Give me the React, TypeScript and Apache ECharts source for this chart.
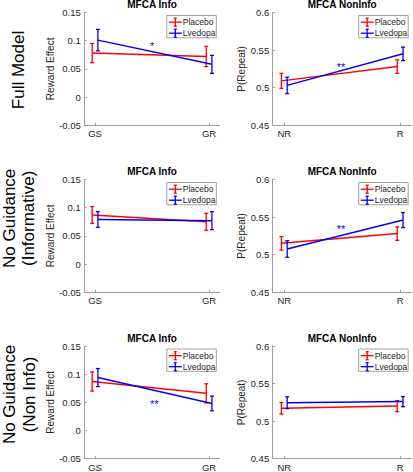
import React, { useEffect, useRef } from 'react';
import * as echarts from 'echarts';

// ---------- data ----------
const rowLabels = [['Full Model'], ['No Guidance', '(Informative)'], ['No Guidance', '(Non Info)']];
const panelTitles = ['MFCA Info', 'MFCA NonInfo'];
const infoCategories = ['GS', 'GR'];
const nonInfoCategories = ['NR', 'R'];
const yAxisNames = ['Reward Effect', 'P(Repeat)'];
const infoYRange = [-0.05, 0.15];
const nonInfoYRange = [0.45, 0.6];
const yTickStep = 0.05;
const groups = ['Placebo', 'Lvedopa'];

// [row][category]
const infoPlaceboMean = [[0.078, 0.072], [0.087, 0.075], [0.087, 0.066]];
const infoPlaceboSem = [[0.017, 0.018], [0.015, 0.015], [0.017, 0.017]];
const infoLvedopaMean = [[0.101, 0.058], [0.079, 0.077], [0.094, 0.048]];
const infoLvedopaSem = [[0.019, 0.016], [0.014, 0.016], [0.016, 0.013]];
const nonInfoPlaceboMean = [[0.509, 0.528], [0.515, 0.528], [0.517, 0.52]];
const nonInfoPlaceboSem = [[0.01, 0.009], [0.009, 0.009], [0.0076, 0.0073]];
const nonInfoLvedopaMean = [[0.503, 0.545], [0.5075, 0.546], [0.5245, 0.526]];
const nonInfoLvedopaSem = [[0.011, 0.009], [0.011, 0.01], [0.0078, 0.0067]];

// significance markers [row] -> label and [x, y] position in data units
const infoSig = ['*', '', '**'];
const infoSigPos = [[1.5, 0.0963], null, [1.52, 0.0524]];
const nonInfoSig = ['**', '**', ''];
const nonInfoSigPos = [[1.49, 0.531], [1.49, 0.538], null];

// ---------- style / layout ----------
const FONT = "'Liberation Sans', Arial, Helvetica, sans-serif";
const COLORS = ['#ff0000', '#0000ff'];
const AXIS_COLOR = '#a0a0a0';
const TEXT_COLOR = '#262626';
const rowTops = [12.5, 179.5, 346];
const plotH = 112.7;
const colLeft = [84.3, 272.7];
const colWidth = [135.5, 139];
const colXRange = [[0.906, 2.094], [0.9, 2.1]];
const groupOffset = [-0.025, 0.025];
const rowLabelCenterY = [70, 218.3, 394.5];
const rowLabelLineX = [[18.3], [9, 28.5], [9, 29]];

function buildOption() {
  const grids: any[] = [];
  const xAxes: any[] = [];
  const yAxes: any[] = [];
  const series: any[] = [];
  const graphics: any[] = [];

  for (let r = 0; r < 3; r++) {
    for (let c = 0; c < 2; c++) {
      const idx = r * 2 + c;
      const left = colLeft[c];
      const width = colWidth[c];
      const top = rowTops[r];
      const cats = c === 0 ? infoCategories : nonInfoCategories;
      const yr = c === 0 ? infoYRange : nonInfoYRange;

      grids.push({ left, top, width, height: plotH, containLabel: false, outerBoundsMode: 'none' });
      xAxes.push({
        type: 'value',
        gridIndex: idx,
        min: colXRange[c][0],
        max: colXRange[c][1],
        splitLine: { show: false },
        axisLine: { show: true, onZero: false, lineStyle: { color: AXIS_COLOR, width: 1 } },
        axisTick: { show: true, inside: true, length: 2.5, customValues: [1, 2], lineStyle: { color: AXIS_COLOR } },
        axisLabel: {
          customValues: [1, 2],
          formatter: (v: number) => cats[Math.round(v) - 1] ?? '',
          color: TEXT_COLOR,
          fontSize: 9.5,
          fontFamily: FONT,
          margin: 3.5,
        },
      });
      yAxes.push({
        type: 'value',
        gridIndex: idx,
        min: yr[0],
        max: yr[1],
        interval: yTickStep,
        name: yAxisNames[c],
        nameLocation: 'middle',
        nameGap: c === 0 ? 27 : 23,
        nameTextStyle: { color: TEXT_COLOR, fontSize: 10, fontFamily: FONT },
        splitLine: { show: false },
        axisLine: { show: true, onZero: false, lineStyle: { color: AXIS_COLOR, width: 1 } },
        axisTick: { show: true, inside: true, length: 2.5, lineStyle: { color: AXIS_COLOR } },
        axisLabel: { color: TEXT_COLOR, fontSize: 9.5, fontFamily: FONT, margin: 3.5 },
      });

      for (let g = 0; g < 2; g++) {
        const means = c === 0 ? (g === 0 ? infoPlaceboMean : infoLvedopaMean) : (g === 0 ? nonInfoPlaceboMean : nonInfoLvedopaMean);
        const sems = c === 0 ? (g === 0 ? infoPlaceboSem : infoLvedopaSem) : (g === 0 ? nonInfoPlaceboSem : nonInfoLvedopaSem);
        const color = COLORS[g];
        const xs = [1, 2].map((k) => k + groupOffset[g]);
        series.push({
          type: 'line',
          name: groups[g],
          xAxisIndex: idx,
          yAxisIndex: idx,
          data: xs.map((x, k) => [x, means[r][k]]),
          symbol: 'none',
          lineStyle: { color, width: 1.5 },
          itemStyle: { color },
          silent: true,
          z: 3 + g * 2,
        });
        series.push({
          type: 'custom',
          name: groups[g] + ' SEM',
          xAxisIndex: idx,
          yAxisIndex: idx,
          data: xs.map((x, k) => [x, means[r][k] - sems[r][k], means[r][k] + sems[r][k]]),
          encode: { x: 0, y: [1, 2] },
          silent: true,
          z: 4 + g * 2,
          renderItem: (params: any, api: any) => {
            const x = api.value(0);
            const lo = api.coord([x, api.value(1)]);
            const hi = api.coord([x, api.value(2)]);
            const w = 2;
            const style = { stroke: color, lineWidth: 1.3 };
            return {
              type: 'group',
              children: [
                { type: 'line', shape: { x1: lo[0], y1: lo[1], x2: hi[0], y2: hi[1] }, style },
                { type: 'line', shape: { x1: lo[0] - w, y1: lo[1], x2: lo[0] + w, y2: lo[1] }, style },
                { type: 'line', shape: { x1: hi[0] - w, y1: hi[1], x2: hi[0] + w, y2: hi[1] }, style },
              ],
            };
          },
        });
      }

      const sig = c === 0 ? infoSig[r] : nonInfoSig[r];
      const sigPos = c === 0 ? infoSigPos[r] : nonInfoSigPos[r];
      if (sig && sigPos) {
        series.push({
          type: 'custom',
          name: 'sig',
          xAxisIndex: idx,
          yAxisIndex: idx,
          data: [sigPos],
          silent: true,
          z: 10,
          renderItem: (params: any, api: any) => {
            const p = api.coord([api.value(0), api.value(1)]);
            return {
              type: 'text',
              x: p[0],
              y: p[1] + 3,
              style: {
                text: sig,
                fill: '#0000ff',
                font: `11px ${FONT}`,
                align: 'center',
                textAlign: 'center',
                verticalAlign: 'middle',
                textVerticalAlign: 'middle',
              },
            };
          },
        });
      }

      // title
      graphics.push({
        type: 'text',
        x: left + width / 2,
        y: top - 7.9,
        style: {
          text: panelTitles[c],
          fill: '#000',
          font: `bold 10px ${FONT}`,
          align: 'center',
          textAlign: 'center',
          verticalAlign: 'middle',
          textVerticalAlign: 'middle',
        },
      });

      // legend box
      const lx = left + width - 53;
      const ly = top + 3;
      const legendChildren: any[] = [
        { type: 'rect', shape: { x: lx, y: ly, width: 49.5, height: 22.3 }, style: { fill: '#fff', stroke: AXIS_COLOR, lineWidth: 1 } },
      ];
      groups.forEach((name, g) => {
        const cy = ly + 6.7 + g * 11;
        const st = { stroke: COLORS[g], lineWidth: 1.3 };
        const mx = lx + 8.5;
        legendChildren.push(
          { type: 'line', shape: { x1: lx + 2, y1: cy, x2: lx + 15, y2: cy }, style: st },
          { type: 'line', shape: { x1: mx, y1: cy - 4, x2: mx, y2: cy + 4 }, style: st },
          { type: 'line', shape: { x1: mx - 1.5, y1: cy - 4, x2: mx + 1.5, y2: cy - 4 }, style: st },
          { type: 'line', shape: { x1: mx - 1.5, y1: cy + 4, x2: mx + 1.5, y2: cy + 4 }, style: st },
          {
            type: 'text',
            x: lx + 16,
            y: cy,
            style: {
              text: name,
              fill: TEXT_COLOR,
              font: `8.5px ${FONT}`,
              align: 'left',
              textAlign: 'left',
              verticalAlign: 'middle',
              textVerticalAlign: 'middle',
            },
          }
        );
      });
      graphics.push({ type: 'group', z: 20, children: legendChildren });
    }

    // row label
    rowLabels[r].forEach((line, li) => {
      graphics.push({
        type: 'text',
        x: rowLabelLineX[r][li],
        y: rowLabelCenterY[r],
        rotation: Math.PI / 2,
        style: {
          text: line,
          fill: '#000',
          font: `17px ${FONT}`,
          align: 'center',
          textAlign: 'center',
          verticalAlign: 'middle',
          textVerticalAlign: 'middle',
        },
      });
    });
  }

  return {
    animation: false,
    backgroundColor: '#fff',
    textStyle: { fontFamily: FONT },
    grid: grids,
    xAxis: xAxes,
    yAxis: yAxes,
    series,
    graphic: graphics,
  };
}

export default function App() {
  const ref = useRef<HTMLDivElement>(null);
  useEffect(() => {
    if (!ref.current) return;
    const chart = echarts.init(ref.current, undefined, { renderer: 'svg' });
    chart.setOption(buildOption() as any);
    return () => chart.dispose();
  }, []);
  return (
    <div
      ref={ref}
      style={{ position: 'fixed', left: 0, top: 0, width: 413, height: 472, background: '#fff' }}
    />
  );
}
